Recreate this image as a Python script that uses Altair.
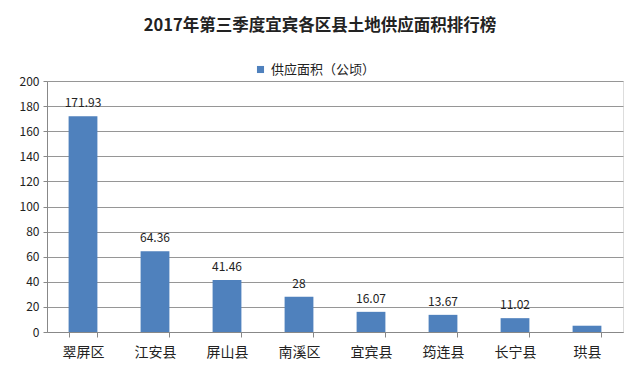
import altair as alt
import pandas as pd

categories = ["翠屏区", "江安县", "屏山县", "南溪区", "宜宾县", "筠连县", "长宁县", "珙县"]
values = [171.93, 64.36, 41.46, 28, 16.07, 13.67, 11.02, 5]
labels = ["171.93", "64.36", "41.46", "28", "16.07", "13.67", "11.02", ""]
series_name = "供应面积（公顷）"
y_ticks = [0, 20, 40, 60, 80, 100, 120, 140, 160, 180, 200]
title_text = "2017年第三季度宜宾各区县土地供应面积排行榜"

df = pd.DataFrame({
    "区县": categories,
    "面积": values,
    "标签": labels,
    "系列": [series_name] * len(categories),
})

FONT = "Noto Sans CJK SC"

x = alt.X(
    "区县:N",
    sort=categories,
    title=None,
    scale=alt.Scale(paddingInner=0.6, paddingOuter=0.3),
    axis=alt.Axis(
        labelAngle=0, tickBand="extent", ticks=True, tickSize=5,
        tickColor="#888888", domainColor="#888888", labelFontSize=14,
        labelColor="#222222", labelFont=FONT, labelPadding=8, grid=False,
    ),
)
y = alt.Y(
    "面积:Q",
    title=None,
    scale=alt.Scale(domain=[0, 200], nice=False),
    axis=alt.Axis(
        values=y_ticks, tickSize=4, tickColor="#888888", domainColor="#888888",
        gridColor="#969696", labelFontSize=12, labelColor="#222222",
        labelFont=FONT, labelPadding=4,
    ),
)

bars = alt.Chart(df).mark_bar(color="#4F81BD").encode(
    x=x,
    y=y,
    color=alt.Color(
        "系列:N",
        scale=alt.Scale(range=["#4F81BD"]),
        legend=alt.Legend(
            title=None, orient="none", legendX=207, legendY=-18,
            direction="horizontal", symbolType="square", symbolSize=50,
            labelFontSize=13, labelFont=FONT, labelColor="#222222",
        ),
    ),
)

text = alt.Chart(df).mark_text(
    baseline="bottom", dy=-6, fontSize=12, font=FONT, color="#222222"
).encode(x=x, y=y, text="标签:N")

chart = alt.layer(bars, text).properties(
    width=576,
    height=251,
    padding={"left": 39, "top": 73, "right": 9, "bottom": 48},
    autosize=alt.AutoSizeParams(type="none"),
    title=alt.TitleParams(
        text=title_text, anchor="middle", fontSize=16.5, font=FONT,
        fontWeight="bold", color="#222222", offset=21, dx=-15,
        baseline="middle",
    ),
).configure_view(stroke=None).configure(background="white")

chart.save("out.html", embed_options={"renderer": "svg", "actions": False})
